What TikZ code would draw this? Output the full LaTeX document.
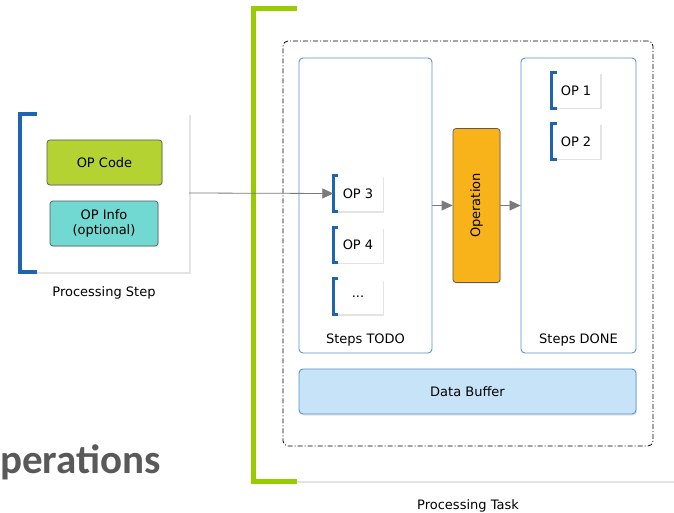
\documentclass[tikz,border=0pt]{standalone}
\usepackage{fontspec}
\setmainfont{DejaVu Sans}
\newfontfamily\titlefont{Carlito}
\usetikzlibrary{shadows, arrows.meta}

\definecolor{bracketblue}{HTML}{1F64B0}
\definecolor{taskgreen}{HTML}{99CC00}
\definecolor{boxblue}{HTML}{5A92CB}
\definecolor{codegreen}{HTML}{B4D232}
\definecolor{infoteal}{HTML}{72D8D2}
\definecolor{opamber}{HTML}{F8B31A}
\definecolor{bufferblue}{HTML}{C6E3F7}
\definecolor{flowgray}{HTML}{7A7A7A}
\definecolor{edgegray}{HTML}{5A5A5A}
\definecolor{titlegray}{HTML}{595959}

\begin{document}
\begin{tikzpicture}[x=1pt, y=-1pt, font=\fontsize{13}{15.5}\selectfont,
    panel/.style={fill=white, drop shadow={opacity=0.22, shadow xshift=1.5pt, shadow yshift=-1.5pt}},
    opcard/.style={panel, inner sep=0pt, minimum width=49, minimum height=35},
    fieldbox/.style={draw=edgegray, rounded corners=3pt, line width=0.7pt, inner sep=0pt,
        minimum height=45, align=center, drop shadow={opacity=0.2, shadow xshift=1pt, shadow yshift=-1pt}},
    column/.style={draw=boxblue, rounded corners=4pt, line width=0.9pt, inner sep=0pt},
    blueedge/.style={draw=bracketblue, line width=3.5pt},
    greenedge/.style={draw=taskgreen, line width=5pt},
    flow/.style={draw=flowgray, line width=0.8pt, -{Triangle[length=11pt, width=10pt]}},
    caption/.style={inner sep=0pt}
]
    \useasboundingbox[fill=white] (0,0) rectangle (674,513);

    % Title, its first letter lies beyond the left edge
    \node[anchor=base west, inner sep=0pt, text=titlegray,
        font=\titlefont\bfseries\fontsize{41}{43}\selectfont] (title) at (0,473) {perations};

    % Processing step
    \node[panel, minimum width=169, minimum height=158, inner sep=0pt] (step) at (104.5,193) {};
    \draw[blueedge] ([xshift=17]step.north west) -| (step.south west) -- ++(17,0);
    \node[fieldbox, fill=codegreen, minimum width=115] (code) at (104.5,162.5) {OP Code};
    \node[fieldbox, fill=infoteal, minimum width=108] (info) at (104,223.5) {OP Info\\(optional)};
    \node[caption] (steplabel) at (104,293) {Processing Step};

    % Processing task
    \node[panel, minimum width=446, minimum height=472, inner sep=0pt] (task) at (477,245) {};
    \draw[greenedge] ([xshift=43]task.north west) -| (task.south west) -- ++(43,0);
    \node[caption] (tasklabel) at (468,506) {Processing Task};

    % Dash-dotted container
    \node[draw=black, line width=0.8pt, rounded corners=5pt,
        dash pattern=on 5pt off 2pt on 1pt off 2pt,
        minimum width=370, minimum height=405, inner sep=0pt] (container) at (468,243.5) {};

    % Columns
    \node[column, minimum width=133, minimum height=295] (todo) at (365.5,205.5) {};
    \node[column, minimum width=115, minimum height=295] (done) at (578.5,205.5) {};
    \node[caption] (todolabel) at (365.5,340) {Steps TODO};
    \node[caption] (donelabel) at (578.5,340) {Steps DONE};

    % Operation
    \node[draw=edgegray, fill=opamber, rounded corners=3pt, line width=0.7pt,
        minimum width=47, minimum height=154, inner sep=0pt,
        drop shadow={opacity=0.2, shadow xshift=1pt, shadow yshift=-1pt}] (oper) at (476.5,205.5) {};
    \node[rotate=90, inner sep=0pt] (opertext) at (oper) {Operation};

    % Data buffer
    \node[draw=boxblue, fill=bufferblue, rounded corners=4pt, line width=0.9pt,
        minimum width=337, minimum height=45, inner sep=0pt,
        drop shadow={opacity=0.2, shadow xshift=1pt, shadow yshift=-1.5pt}] (buffer) at (467.5,391.5) {Data Buffer};

    % Steps
    \node[opcard] (op3) at (358,193.5) {OP 3};
    \node[opcard] (op4) at (358,245) {OP 4};
    \node[opcard] (opmore) at (358,296.5) {...};
    \node[opcard, minimum width=48] (op1) at (576,90.5) {OP 1};
    \node[opcard, minimum width=48] (op2) at (576,141.5) {OP 2};
    \foreach \c in {op1,op2,op3,op4,opmore}
        \draw[blueedge, line width=3pt] ([xshift=5]\c.north west) -| (\c.south west) -- ++(5,0);

    % Flow
    \draw[flow] (step.east) -- (op3.west);
    \draw[flow] (todo.east) -- (oper.west);
    \draw[flow] (oper.east) -- (done.west);
\end{tikzpicture}
\end{document}
